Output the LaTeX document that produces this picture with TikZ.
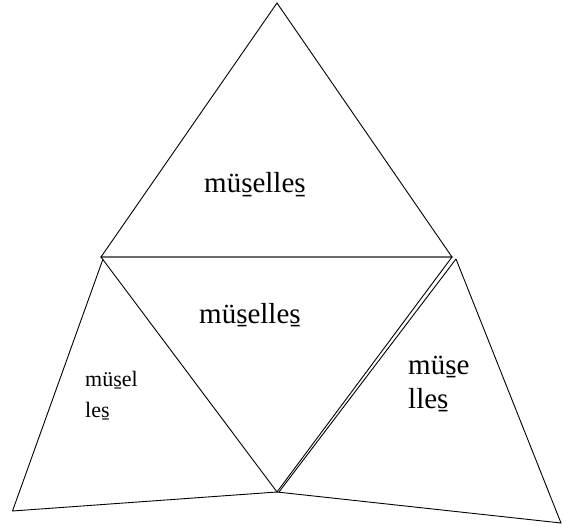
\documentclass[tikz,border=0pt]{standalone}
\usepackage{fontspec}
\setmainfont{Liberation Serif}
\begin{document}
\begin{tikzpicture}[x=1pt,y=-1pt,
  edge/.style={draw=black,line width=0.9pt,line join=miter},
  lbl/.style={inner sep=0pt,anchor=base west,align=left}]
\useasboundingbox (0,0) rectangle (566,527);
% vertices
\coordinate (apex) at (277,3);
\coordinate (tl) at (101,257);
\coordinate (tr) at (452,257);
\coordinate (bm) at (277,492);
\coordinate (ltop) at (103,259);
\coordinate (lbl) at (12.5,511);
\coordinate (rtop) at (456,259);
\coordinate (rbm) at (279,492);
\coordinate (rbr) at (561,523);
% top triangle
\draw[edge] (apex) -- (tl) -- (tr) -- cycle;
% middle triangle
\draw[edge] (tl) -- (tr) -- (bm) -- cycle;
% left triangle
\draw[edge] (ltop) -- (lbl) -- (bm);
% right triangle
\draw[edge] (rtop) -- (rbm);
\draw[edge] (rtop) -- (rbr) -- (bm);
% labels
\node[lbl,font=\fontsize{29}{32}\selectfont] (t1) at (204,193) {müs̱elles̱};
\node[lbl,font=\fontsize{29}{32}\selectfont] (t2) at (199,323) {müs̱elles̱};
\node[lbl,font=\fontsize{22}{31}\selectfont] (t3) at (85,417) {müs̱el\\les̱};
\node[lbl,font=\fontsize{29}{34}\selectfont] (t4) at (408,408) {müs̱e\\lles̱};
\end{tikzpicture}
\end{document}
